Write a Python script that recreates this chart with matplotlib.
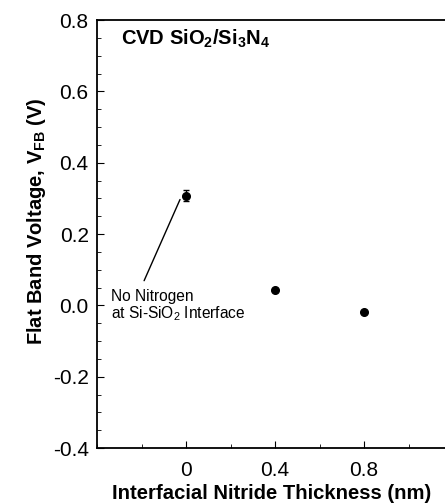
import numpy as np
import matplotlib
matplotlib.use("Agg")
import matplotlib.pyplot as plt
from matplotlib.ticker import MultipleLocator, FuncFormatter

plt.rcParams['font.family'] = ['Liberation Sans', 'DejaVu Sans']
plt.rcParams['mathtext.fontset'] = 'custom'
plt.rcParams['mathtext.rm'] = 'Liberation Sans'
plt.rcParams['mathtext.bf'] = 'Liberation Sans:bold'

# data
thickness = [0.0, 0.4, 0.8]
vfb = [0.308, 0.044, -0.018]
vfb_err = [0.015, 0.0, 0.0]

x_ticks = [0, 0.4, 0.8]
x_tick_labels = ['0', '0.4', '0.8']


def main():
    fig = plt.figure(figsize=(4.45, 5.04), dpi=100)
    ax = fig.add_axes([0.218, 0.111, 0.8, 0.849])

    ax.errorbar(thickness, vfb, yerr=vfb_err, fmt='o', color='black',
                ms=5.5, capsize=2, elinewidth=1, capthick=1)

    ax.set_xlim(-0.4, 1.2)
    ax.set_ylim(-0.4, 0.8)

    ax.set_xticks(x_ticks)
    ax.set_xticklabels(x_tick_labels)
    ax.xaxis.set_minor_locator(MultipleLocator(0.2))
    ax.yaxis.set_major_locator(MultipleLocator(0.2))
    ax.yaxis.set_minor_locator(MultipleLocator(0.05))
    ax.yaxis.set_major_formatter(FuncFormatter(lambda v, p: f'{v:.1f}'.replace('\u2212', '-')))

    ax.tick_params(which='both', direction='in', labelsize=15)
    ax.tick_params(which='major', length=5)
    ax.tick_params(which='minor', length=3)
    ax.tick_params(axis='x', which='both', pad=9)
    ax.tick_params(axis='y', which='both', pad=6)
    ax.spines['right'].set_visible(False)
    for s in ['left', 'bottom', 'top']:
        ax.spines[s].set_linewidth(1.3)

    ax.set_xlabel('Interfacial Nitride Thickness (nm)', fontsize=14.6,
                  fontweight='bold')
    ax.xaxis.set_label_coords(0.49, -0.084)
    ax.set_ylabel(r'Flat Band Voltage, V$_\mathbf{FB}$ (V)', fontsize=14.5,
                  fontweight='bold')
    ax.yaxis.set_label_coords(-0.138, 0.53)

    ax.text(-0.292, 0.730, r'CVD SiO$_\mathbf{2}$/Si$_\mathbf{3}$N$_\mathbf{4}$',
            fontsize=14.5, fontweight='bold', va='baseline')

    ax.annotate('No Nitrogen\nat Si-SiO$_2$ Interface', xy=(-0.027, 0.297),
                xytext=(-0.337, -0.036), fontsize=11.2, ha='left', va='baseline',
                linespacing=1.05,
                arrowprops=dict(arrowstyle='-', color='black', lw=1,
                                shrinkA=4, shrinkB=0,
                                relpos=(0.22, 1.0)))

    fig.savefig('out.png', dpi=100)


if __name__ == "__main__":
    main()
